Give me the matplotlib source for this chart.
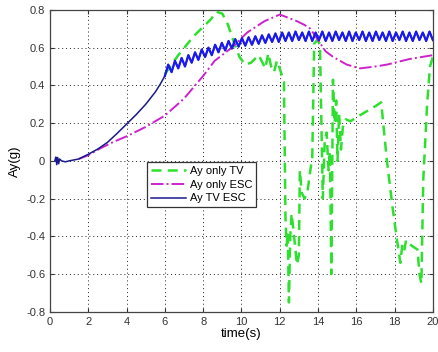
import matplotlib.pyplot as plt
import numpy as np

plt.rcParams['font.family'] = ['Liberation Sans', 'DejaVu Sans']

# lateral acceleration, TV + ESC: smooth build-up, then oscillating around 0.66 g
tv_esc_t0 = [0.25, 0.3, 0.35, 0.4, 0.45, 0.5, 0.6, 0.8, 1.0, 1.5, 2.0, 2.5,
             3.0, 3.5, 4.0, 4.5, 5.0, 5.5, 5.75]
tv_esc_a0 = [0.0, 0.02, -0.02, 0.018, -0.015, 0.01, 0.0, -0.005, 0.0, 0.01,
             0.035, 0.063, 0.098, 0.145, 0.195, 0.245, 0.3, 0.365, 0.405]
tv_esc_t1 = np.linspace(6.0, 20.0, 81)
tv_esc_a1 = [0.45, 0.51, 0.47, 0.53, 0.49, 0.545, 0.50, 0.56, 0.52, 0.575,
             0.535, 0.59, 0.55, 0.60, 0.56, 0.615, 0.575, 0.625, 0.585, 0.635,
             0.595, 0.645, 0.605, 0.65, 0.61, 0.655, 0.615, 0.66, 0.62, 0.665,
             0.625, 0.67, 0.63, 0.675, 0.63, 0.68, 0.635,
             0.68, 0.635, 0.685, 0.64, 0.68, 0.635, 0.685, 0.635, 0.68, 0.64,
             0.685, 0.635, 0.68, 0.635, 0.685, 0.64, 0.68, 0.635, 0.685, 0.635,
             0.68, 0.64, 0.685, 0.635, 0.68, 0.635, 0.685, 0.64, 0.68, 0.635,
             0.685, 0.635, 0.68, 0.64, 0.685, 0.635, 0.68, 0.635, 0.685, 0.64,
             0.68, 0.635, 0.685, 0.64]

# torque vectoring only (identical to TV + ESC before 6 s)
tv_t = [6.0, 6.7, 7.5, 8.0, 8.4, 8.7, 9.0, 9.3,
        9.6, 9.9, 10.2, 10.5, 10.9, 11.1, 11.25, 11.4, 11.55, 11.7, 11.85,
        12.0, 12.15, 12.22, 12.3, 12.36, 12.42, 12.48, 12.55, 12.62, 12.7,
        12.8, 12.9, 13.0, 13.05, 13.15, 13.3, 13.45, 13.6, 13.7, 13.8, 13.95,
        14.1, 14.25, 14.35, 14.45, 14.55, 14.62, 14.7, 14.78, 14.87, 14.95,
        15.02, 15.1, 15.2, 15.3, 15.45, 15.7, 16.0, 16.5, 17.0, 17.3, 17.6,
        17.9, 18.1, 18.3, 18.4, 18.5, 18.6, 18.9, 19.2, 19.3, 19.4, 19.5, 19.6,
        19.7, 19.85, 20.0]
tv_a = [0.46, 0.56, 0.66, 0.71, 0.75, 0.79,
        0.78, 0.72, 0.63, 0.55, 0.51, 0.52, 0.56, 0.52, 0.49, 0.57, 0.50, 0.47,
        0.53, 0.49, 0.44, 0.42, -0.30, -0.45, -0.38, -0.75, -0.40, -0.28,
        -0.35, -0.45, -0.55, -0.50, -0.05, -0.17, -0.20, -0.16, -0.05, 0.02,
        0.62, 0.64, 0.62, -0.20, 0.10, 0.15, -0.05, 0.05, -0.60, 0.43, 0.20,
        0.32, 0.0, 0.25, 0.06, 0.18, 0.22, 0.21, 0.23, 0.26, 0.29, 0.31, 0.0,
        -0.25, -0.40, -0.54, -0.45, -0.48, -0.42, -0.45, -0.47, -0.60, -0.65,
        -0.10, 0.10, 0.30, 0.50, 0.55]

# ESC only
esc_t = [1.5, 2.0, 2.6, 3.3, 4.0, 5.0, 6.0, 7.0, 8.0, 8.6, 9.5,
         10.3, 11.2, 12.0, 12.4, 12.9, 13.3, 13.6, 14.0, 14.4, 14.8, 15.5,
         16.2, 17.0, 17.6, 18.8, 20.0]
esc_a = [0.01, 0.03, 0.065, 0.1, 0.13, 0.18, 0.24, 0.33, 0.45,
         0.53, 0.60, 0.68, 0.74, 0.775, 0.76, 0.74, 0.72, 0.70, 0.64, 0.58,
         0.55, 0.51, 0.49, 0.50, 0.51, 0.54, 0.56]

tv_esc_t = np.concatenate([tv_esc_t0, tv_esc_t1])
tv_esc_a = np.concatenate([tv_esc_a0, tv_esc_a1])

fig = plt.figure(figsize=(4.39, 3.52), dpi=100)
ax = fig.add_axes([0.114, 0.114, 0.872, 0.858])

ax.plot(tv_t, tv_a, color='#2ee02e', ls='--', lw=1.8, dashes=(4, 2.5),
        label='Ay only TV', zorder=3)
ax.plot(esc_t, esc_a, color='#cc22cc', ls='-.', lw=1.4, label='Ay only ESC',
        zorder=3)
ax.plot(tv_esc_t, tv_esc_a, color='#1a1a8a', lw=1.1, label='Ay TV ESC',
        zorder=4)
ax.plot(tv_esc_t1, tv_esc_a1, color='#1a1af0', lw=1.6, zorder=4)

ax.set_xlim(0, 20)
ax.set_ylim(-0.8, 0.8)
ax.set_xticks(np.arange(0, 21, 2))
ax.set_yticks(np.arange(-0.8, 0.81, 0.2))
ax.set_yticklabels(['-0.8', '-0.6', '-0.4', '-0.2', '0', '0.2', '0.4', '0.6',
                    '0.8'])
ax.grid(True, color='#222222', lw=0.7, dashes=(1, 3))
ax.tick_params(direction='in', top=True, right=True, labelsize=8,
               colors='#333333', length=3)
for s in ax.spines.values():
    s.set_color('#444444')
    s.set_linewidth(0.9)

ax.set_xlabel('time(s)', fontsize=9.5, labelpad=1)
ax.set_ylabel('Ay(g)', fontsize=9.5, labelpad=4)

leg = ax.legend(loc='upper left', bbox_to_anchor=(0.253, 0.497),
                borderaxespad=0, fontsize=8, fancybox=False, framealpha=1,
                edgecolor='#333333', handlelength=3.2, borderpad=0.35,
                labelspacing=0.35, handletextpad=0.3)
leg.get_frame().set_linewidth(0.9)

fig.savefig('out.png', dpi=100)
